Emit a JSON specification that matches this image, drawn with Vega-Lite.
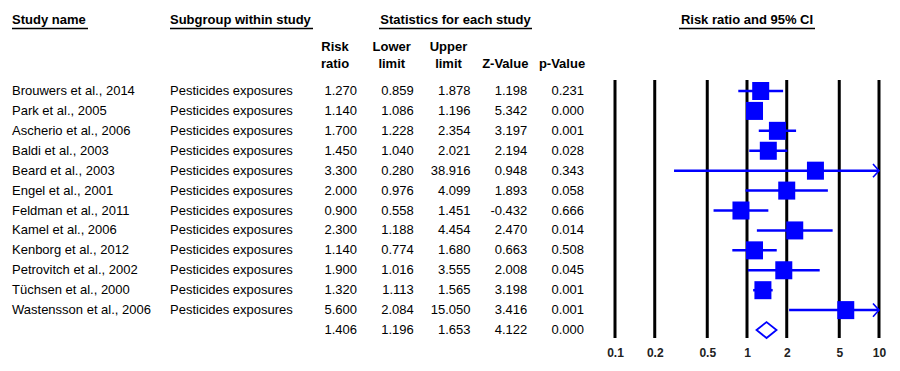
{
  "$schema": "https://vega.github.io/schema/vega-lite/v6.json",
  "width": 900,
  "height": 338,
  "padding": {"left": 0, "top": 0, "right": 0, "bottom": 33},
  "autosize": "none",
  "background": "white",
  "config": {
    "view": {"stroke": null},
    "font": "Liberation Sans",
    "locale": {"number": {"decimal": ".", "thousands": ",", "grouping": [3], "currency": ["$", ""], "minus": "-"}}
  },
  "datasets": {
    "studies": [
      {"row": 1, "kind": "study", "study": "Brouwers et al., 2014", "subgroup": "Pesticides exposures", "rr": 1.270, "lo": 0.859, "hi": 1.878, "z": 1.198, "p": 0.231},
      {"row": 2, "kind": "study", "study": "Park et al., 2005", "subgroup": "Pesticides exposures", "rr": 1.140, "lo": 1.086, "hi": 1.196, "z": 5.342, "p": 0.000},
      {"row": 3, "kind": "study", "study": "Ascherio et al., 2006", "subgroup": "Pesticides exposures", "rr": 1.700, "lo": 1.228, "hi": 2.354, "z": 3.197, "p": 0.001},
      {"row": 4, "kind": "study", "study": "Baldi et al., 2003", "subgroup": "Pesticides exposures", "rr": 1.450, "lo": 1.040, "hi": 2.021, "z": 2.194, "p": 0.028},
      {"row": 5, "kind": "study", "study": "Beard et al., 2003", "subgroup": "Pesticides exposures", "rr": 3.300, "lo": 0.280, "hi": 38.916, "z": 0.948, "p": 0.343},
      {"row": 6, "kind": "study", "study": "Engel et al., 2001", "subgroup": "Pesticides exposures", "rr": 2.000, "lo": 0.976, "hi": 4.099, "z": 1.893, "p": 0.058},
      {"row": 7, "kind": "study", "study": "Feldman et al., 2011", "subgroup": "Pesticides exposures", "rr": 0.900, "lo": 0.558, "hi": 1.451, "z": -0.432, "p": 0.666},
      {"row": 8, "kind": "study", "study": "Kamel et al., 2006", "subgroup": "Pesticides exposures", "rr": 2.300, "lo": 1.188, "hi": 4.454, "z": 2.470, "p": 0.014},
      {"row": 9, "kind": "study", "study": "Kenborg et al., 2012", "subgroup": "Pesticides exposures", "rr": 1.140, "lo": 0.774, "hi": 1.680, "z": 0.663, "p": 0.508},
      {"row": 10, "kind": "study", "study": "Petrovitch et al., 2002", "subgroup": "Pesticides exposures", "rr": 1.900, "lo": 1.016, "hi": 3.555, "z": 2.008, "p": 0.045},
      {"row": 11, "kind": "study", "study": "Tüchsen et al., 2000", "subgroup": "Pesticides exposures", "rr": 1.320, "lo": 1.113, "hi": 1.565, "z": 3.198, "p": 0.001},
      {"row": 12, "kind": "study", "study": "Wastensson et al., 2006", "subgroup": "Pesticides exposures", "rr": 5.600, "lo": 2.084, "hi": 15.050, "z": 3.416, "p": 0.001},
      {"row": 13, "kind": "summary", "study": "", "subgroup": "", "rr": 1.406, "lo": 1.196, "hi": 1.653, "z": 4.122, "p": 0.000}
    ],
    "ticks": [{"v": 0.1}, {"v": 0.2}, {"v": 0.5}, {"v": 1}, {"v": 2}, {"v": 5}, {"v": 10}],
    "heads": [
      {"line": "title", "col": "study", "text": "Study name"},
      {"line": "title", "col": "subgroup", "text": "Subgroup within study"},
      {"line": "title", "col": "hi", "text": "Statistics for each study"},
      {"line": "title", "col": "forest", "text": "Risk ratio and 95% CI"},
      {"line": "top", "col": "rr", "text": "Risk"},
      {"line": "top", "col": "lo", "text": "Lower"},
      {"line": "top", "col": "hi", "text": "Upper"},
      {"line": "bottom", "col": "rr", "text": "ratio"},
      {"line": "bottom", "col": "lo", "text": "limit"},
      {"line": "bottom", "col": "hi", "text": "limit"},
      {"line": "bottom", "col": "z", "text": "Z-Value"},
      {"line": "bottom", "col": "p", "text": "p-Value"}
    ]
  },
  "layer": [
    {
      "layer": [
        {
          "data": {"name": "studies"},
          "transform": [{"filter": "datum.kind == 'study'"}, {"fold": ["study", "subgroup"], "as": ["col", "val"]}],
          "mark": {"type": "text", "align": "left", "baseline": "middle", "fontSize": 13, "font": "Liberation Sans", "color": "#000000"},
          "encoding": {
            "x": {"field": "col", "type": "nominal", "scale": {"type": "point", "domain": ["study", "subgroup"], "range": [12, 170], "padding": 0}, "axis": null},
            "y": {"field": "row", "type": "quantitative", "scale": {"domain": [-3.568, 13.4], "reverse": true, "nice": false, "zero": false}, "axis": null},
            "text": {"field": "val", "type": "nominal"}
          }
        },
        {
          "data": {"name": "heads"},
          "transform": [{"filter": "datum.line == 'title' && (datum.col == 'study' || datum.col == 'subgroup')"}],
          "mark": {"type": "text", "align": "left", "baseline": "middle", "fontSize": 13, "fontWeight": "bold", "font": "Liberation Sans", "color": "#000000"},
          "encoding": {
            "x": {"field": "col", "type": "nominal", "axis": null},
            "y": {"datum": -2.564, "type": "quantitative"},
            "text": {"field": "text", "type": "nominal"}
          }
        },
        {
          "data": {"name": "heads"},
          "transform": [{"filter": "datum.text == 'Study name'"}],
          "mark": {"type": "tick", "orient": "horizontal", "size": 76, "thickness": 1.5, "xOffset": 38, "yOffset": 8.5, "color": "#000000", "opacity": 1},
          "encoding": {
            "x": {"field": "col", "type": "nominal", "axis": null},
            "y": {"datum": -2.564, "type": "quantitative"}
          }
        },
        {
          "data": {"name": "heads"},
          "transform": [{"filter": "datum.text == 'Subgroup within study'"}],
          "mark": {"type": "tick", "orient": "horizontal", "size": 143, "thickness": 1.5, "xOffset": 71.5, "yOffset": 8.5, "color": "#000000", "opacity": 1},
          "encoding": {
            "x": {"field": "col", "type": "nominal", "axis": null},
            "y": {"datum": -2.564, "type": "quantitative"}
          }
        }
      ]
    },
    {
      "layer": [
        {
          "data": {"name": "studies"},
          "transform": [{"fold": ["rr", "lo", "hi", "z", "p"], "as": ["col", "val"]}],
          "mark": {"type": "text", "align": "right", "baseline": "middle", "fontSize": 13, "font": "Liberation Sans", "color": "#000000"},
          "encoding": {
            "x": {"field": "col", "type": "nominal", "scale": {"type": "point", "domain": ["rr", "lo", "hi", "z", "p"], "range": [357, 584], "padding": 0}, "axis": null},
            "y": {"field": "row", "type": "quantitative", "axis": null},
            "text": {"field": "val", "type": "quantitative", "format": ".3f"}
          }
        },
        {
          "data": {"name": "heads"},
          "transform": [{"filter": "datum.line == 'top'"}],
          "mark": {"type": "text", "align": "center", "baseline": "middle", "dx": -22, "fontSize": 13, "fontWeight": "bold", "font": "Liberation Sans", "color": "#000000"},
          "encoding": {
            "x": {"field": "col", "type": "nominal", "axis": null},
            "y": {"datum": -1.209, "type": "quantitative"},
            "text": {"field": "text", "type": "nominal"}
          }
        },
        {
          "data": {"name": "heads"},
          "transform": [{"filter": "datum.line == 'bottom'"}],
          "mark": {"type": "text", "align": "center", "baseline": "middle", "dx": -22, "fontSize": 13, "fontWeight": "bold", "font": "Liberation Sans", "color": "#000000"},
          "encoding": {
            "x": {"field": "col", "type": "nominal", "axis": null},
            "y": {"datum": -0.355, "type": "quantitative"},
            "text": {"field": "text", "type": "nominal"}
          }
        },
        {
          "data": {"name": "heads"},
          "transform": [{"filter": "datum.line == 'title' && datum.col == 'hi'"}],
          "mark": {"type": "text", "align": "center", "baseline": "middle", "dx": -15, "fontSize": 13, "fontWeight": "bold", "font": "Liberation Sans", "color": "#000000"},
          "encoding": {
            "x": {"field": "col", "type": "nominal", "axis": null},
            "y": {"datum": -2.564, "type": "quantitative"},
            "text": {"field": "text", "type": "nominal"}
          }
        },
        {
          "data": {"name": "heads"},
          "transform": [{"filter": "datum.line == 'title' && datum.col == 'hi'"}],
          "mark": {"type": "tick", "orient": "horizontal", "size": 153, "thickness": 1.5, "xOffset": -15, "yOffset": 8.5, "color": "#000000", "opacity": 1},
          "encoding": {
            "x": {"field": "col", "type": "nominal", "axis": null},
            "y": {"datum": -2.564, "type": "quantitative"}
          }
        }
      ]
    },
    {
      "layer": [
        {
          "data": {"name": "ticks"},
          "mark": {"type": "rule", "color": "#000000", "strokeWidth": 3},
          "encoding": {
            "x": {"field": "v", "type": "quantitative",
              "scale": {"type": "log", "domain": [0.1, 10], "range": [615, 879], "clamp": true, "nice": false},
              "axis": {"values": [0.1, 0.2, 0.5, 1, 2, 5, 10], "format": "~g", "ticks": false, "domain": false, "grid": false, "title": null,
                "labelFont": "Liberation Sans", "labelFontWeight": "bold", "labelFontSize": 12, "labelColor": "#222222", "labelPadding": 9, "labelFlush": false, "labelOverlap": false}},
            "y": {"datum": 0.448, "type": "quantitative"},
            "y2": {"datum": 13.4}
          }
        },
        {
          "data": {"name": "studies"},
          "transform": [{"filter": "datum.kind == 'study'"}],
          "mark": {"type": "rule", "color": "#0000ff", "strokeWidth": 2.5},
          "encoding": {
            "x": {"field": "lo", "type": "quantitative", "title": null},
            "x2": {"field": "hi"},
            "y": {"field": "row", "type": "quantitative"}
          }
        },
        {
          "data": {"name": "studies"},
          "transform": [{"filter": "datum.hi > 10"}],
          "mark": {"type": "point", "shape": "M-1,-1.1L0,0L-1,1.1", "size": 144, "filled": false, "stroke": "#0000ff", "strokeWidth": 1.6, "opacity": 1},
          "encoding": {
            "x": {"field": "hi", "type": "quantitative", "title": null},
            "y": {"field": "row", "type": "quantitative"}
          }
        },
        {
          "data": {"name": "studies"},
          "transform": [{"filter": "datum.kind == 'study'"}],
          "mark": {"type": "point", "shape": "M-1,-1.06L1,-1.06L1,1.06L-1,1.06Z", "size": 289, "filled": true, "color": "#0000ff", "opacity": 1},
          "encoding": {
            "x": {"field": "rr", "type": "quantitative", "title": null},
            "y": {"field": "row", "type": "quantitative"}
          }
        },
        {
          "data": {"name": "studies"},
          "transform": [{"filter": "datum.kind == 'summary'"}],
          "mark": {"type": "point", "shape": "M-1,0L0,-0.8L1,0L0,0.8Z", "size": 400, "filled": false, "fill": "#ffffff", "stroke": "#0000ff", "strokeWidth": 1.8, "opacity": 1},
          "encoding": {
            "x": {"field": "rr", "type": "quantitative", "title": null},
            "y": {"field": "row", "type": "quantitative"}
          }
        },
        {
          "data": {"name": "heads"},
          "transform": [{"filter": "datum.col == 'forest'"}],
          "mark": {"type": "text", "align": "center", "baseline": "middle", "fontSize": 13, "fontWeight": "bold", "font": "Liberation Sans", "color": "#000000"},
          "encoding": {
            "x": {"datum": 1, "type": "quantitative"},
            "y": {"datum": -2.564, "type": "quantitative"},
            "text": {"field": "text", "type": "nominal"}
          }
        },
        {
          "data": {"name": "heads"},
          "transform": [{"filter": "datum.col == 'forest'"}],
          "mark": {"type": "tick", "orient": "horizontal", "size": 136, "thickness": 1.5, "yOffset": 8.5, "color": "#000000", "opacity": 1},
          "encoding": {
            "x": {"datum": 1, "type": "quantitative"},
            "y": {"datum": -2.564, "type": "quantitative"}
          }
        }
      ]
    }
  ],
  "resolve": {"scale": {"x": "independent"}}
}
